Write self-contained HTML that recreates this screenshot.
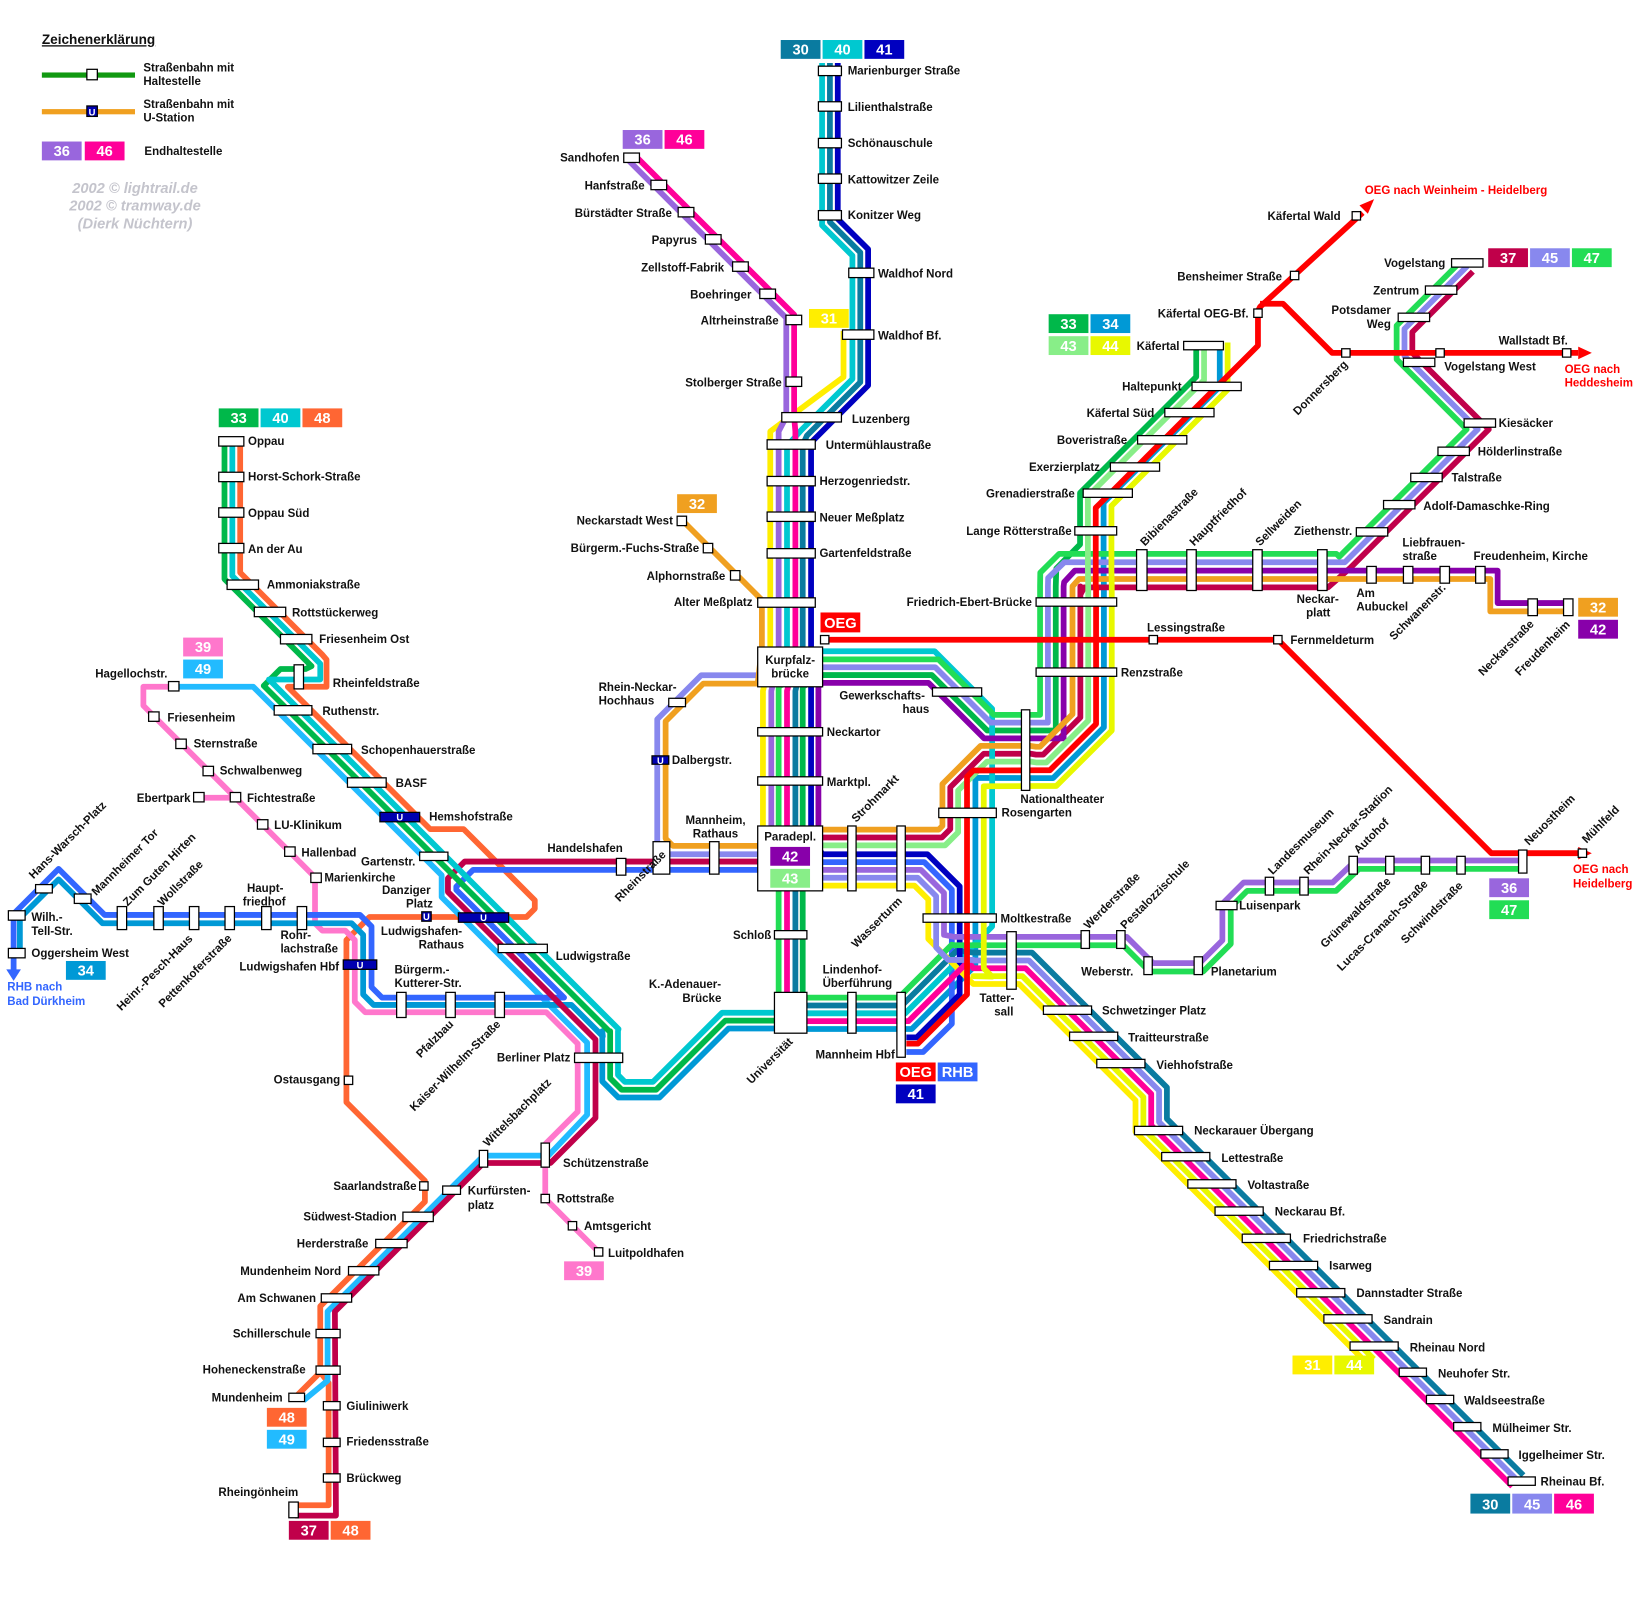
<!DOCTYPE html>
<html><head><meta charset="utf-8">
<style>
html,body{margin:0;padding:0;background:#fff;}
svg{display:block;}
.t{font-family:"Liberation Sans",Arial,sans-serif;font-weight:bold;font-size:11px;fill:#111;}
.w{font-family:"Liberation Sans",Arial,sans-serif;font-weight:bold;font-size:14px;fill:#fff;text-anchor:middle;}
.r{font-family:"Liberation Sans",Arial,sans-serif;font-weight:bold;font-size:11px;fill:#ff0000;}
.b{font-family:"Liberation Sans",Arial,sans-serif;font-weight:bold;font-size:11px;fill:#3366ff;}
.c{font-family:"Liberation Sans",Arial,sans-serif;font-weight:bold;font-style:italic;font-size:14px;fill:#c4c4cc;text-anchor:middle;}
#lines polyline{fill:none;stroke-width:5.5;stroke-linejoin:round;}
.s{fill:#fff;stroke:#000;stroke-width:1.2;}
.u{fill:#0000b0;stroke:#000;stroke-width:1.2;}
.ut{font-family:"Liberation Sans",Arial,sans-serif;font-weight:bold;font-size:9px;fill:#fff;text-anchor:middle;}
</style></head>
<body>
<svg xmlns="http://www.w3.org/2000/svg" width="1641" height="1608" viewBox="0 0 1568 1536">
<rect x="0" y="0" width="1568" height="1536" fill="#fff"/>
<g id="lines"></g>
<g id="arrows">
<polygon points="6,926 20,926 13,937" fill="#3366ff"/>
<polygon points="1508,809 1508,821 1521,815" fill="#ff0000"/>
<polygon points="1508,331 1508,343 1521,337" fill="#ff0000"/>
<polygon points="1313,190 1299,196 1307,204" fill="#ff0000"/>
</g>

<!-- Legend -->
<text x="40" y="42" class="t" style="font-size:13px;text-decoration:underline">Zeichenerklärung</text>
<rect x="40" y="69" width="89" height="5" fill="#119911"/>
<rect x="83" y="66" width="10" height="10" class="s"/>
<text x="137" y="68" class="t">Straßenbahn mit</text><text x="137" y="81" class="t">Haltestelle</text>
<rect x="40" y="104" width="89" height="5" fill="#f0a020"/>
<rect x="83" y="101" width="10" height="10" class="u"/><text x="88" y="110" class="ut">U</text>
<text x="137" y="103" class="t">Straßenbahn mit</text><text x="137" y="116" class="t">U-Station</text>
<rect x="40" y="135" width="38" height="18" fill="#9966dd"/><text x="59" y="149" class="w">36</text>
<rect x="81" y="135" width="38" height="18" fill="#ff0099"/><text x="100" y="149" class="w">46</text>
<text x="138" y="148" class="t">Endhaltestelle</text>
<text x="129" y="184" class="c">2002 © lightrail.de</text>
<text x="129" y="201" class="c">2002 © tramway.de</text>
<text x="129" y="218" class="c">(Dierk Nüchtern)</text>

<!-- Station boxes -->
<g>
<rect x="782" y="63" width="22" height="9" class="s"/>
<rect x="782" y="97" width="22" height="9" class="s"/>
<rect x="782" y="132" width="22" height="9" class="s"/>
<rect x="782" y="166" width="22" height="9" class="s"/>
<rect x="782" y="201" width="22" height="9" class="s"/>
<rect x="811" y="256" width="24" height="9" class="s"/>
<rect x="805" y="315" width="30" height="9" class="s"/>
<rect x="596" y="146" width="15" height="9" class="s"/>
<rect x="622" y="172" width="15" height="9" class="s"/>
<rect x="648" y="198" width="15" height="9" class="s"/>
<rect x="674" y="224" width="15" height="9" class="s"/>
<rect x="700" y="250" width="15" height="9" class="s"/>
<rect x="726" y="276" width="15" height="9" class="s"/>
<rect x="751" y="301" width="15" height="9" class="s"/>
<rect x="751" y="360" width="15" height="9" class="s"/>
<rect x="747" y="394" width="57" height="9" class="s"/>
<rect x="733" y="420" width="46" height="9" class="s"/>
<rect x="733" y="455" width="46" height="9" class="s"/>
<rect x="733" y="489" width="46" height="9" class="s"/>
<rect x="733" y="524" width="46" height="9" class="s"/>
<rect x="724" y="571" width="55" height="9" class="s"/>
<rect x="647" y="493" width="9" height="9" class="s"/>
<rect x="672" y="519" width="9" height="9" class="s"/>
<rect x="698" y="545" width="9" height="9" class="s"/>
<rect x="724" y="618" width="62" height="38" class="s"/>
<rect x="784" y="607" width="8" height="8" class="s"/>
<rect x="724" y="695" width="62" height="8" class="s"/>
<rect x="724" y="742" width="62" height="8" class="s"/>
<rect x="724" y="789" width="62" height="62" class="s"/>
<rect x="740" y="889" width="31" height="8" class="s"/>
<rect x="740" y="948" width="31" height="39" class="s"/>
<rect x="810" y="948" width="8" height="39" class="s"/>
<rect x="857" y="948" width="8" height="62" class="s"/>
<rect x="810" y="789" width="8" height="62" class="s"/>
<rect x="857" y="789" width="8" height="62" class="s"/>
<rect x="891" y="657" width="47" height="8" class="s"/>
<rect x="897" y="772" width="55" height="9" class="s"/>
<rect x="976" y="678" width="8" height="77" class="s"/>
<rect x="882" y="873" width="70" height="8" class="s"/>
<rect x="962" y="890" width="9" height="55" class="s"/>
<rect x="1033" y="889" width="8" height="17" class="s"/>
<rect x="1067" y="889" width="8" height="17" class="s"/>
<rect x="1093" y="914" width="8" height="17" class="s"/>
<rect x="1141" y="914" width="8" height="17" class="s"/>
<rect x="1162" y="861" width="20" height="8" class="s"/>
<rect x="1209" y="838" width="8" height="17" class="s"/>
<rect x="1242" y="838" width="8" height="17" class="s"/>
<rect x="1289" y="818" width="8" height="17" class="s"/>
<rect x="1324" y="818" width="8" height="17" class="s"/>
<rect x="1358" y="818" width="8" height="17" class="s"/>
<rect x="1392" y="818" width="8" height="17" class="s"/>
<rect x="1451" y="812" width="8" height="22" class="s"/>
<rect x="1508" y="811" width="8" height="8" class="s"/>
<rect x="990" y="638" width="77" height="8" class="s"/>
<rect x="990" y="571" width="77" height="8" class="s"/>
<rect x="1027" y="503" width="40" height="8" class="s"/>
<rect x="1035" y="467" width="47" height="8" class="s"/>
<rect x="1061" y="442" width="47" height="8" class="s"/>
<rect x="1087" y="416" width="47" height="8" class="s"/>
<rect x="1113" y="390" width="47" height="8" class="s"/>
<rect x="1139" y="365" width="47" height="8" class="s"/>
<rect x="1131" y="326" width="38" height="8" class="s"/>
<rect x="1086" y="525" width="10" height="39" class="s"/>
<rect x="1134" y="525" width="9" height="39" class="s"/>
<rect x="1197" y="525" width="9" height="39" class="s"/>
<rect x="1259" y="525" width="9" height="39" class="s"/>
<rect x="1306" y="541" width="9" height="16" class="s"/>
<rect x="1341" y="541" width="9" height="16" class="s"/>
<rect x="1376" y="541" width="9" height="16" class="s"/>
<rect x="1410" y="541" width="9" height="16" class="s"/>
<rect x="1460" y="572" width="9" height="16" class="s"/>
<rect x="1494" y="572" width="9" height="16" class="s"/>
<rect x="1296" y="504" width="30" height="8" class="s"/>
<rect x="1322" y="478" width="30" height="8" class="s"/>
<rect x="1348" y="452" width="30" height="8" class="s"/>
<rect x="1374" y="427" width="30" height="8" class="s"/>
<rect x="1399" y="400" width="30" height="8" class="s"/>
<rect x="1341" y="342" width="30" height="8" class="s"/>
<rect x="1336" y="299" width="30" height="8" class="s"/>
<rect x="1362" y="273" width="30" height="8" class="s"/>
<rect x="1387" y="247" width="30" height="8" class="s"/>
<rect x="1282" y="333" width="8" height="8" class="s"/>
<rect x="1372" y="333" width="8" height="8" class="s"/>
<rect x="1493" y="333" width="8" height="8" class="s"/>
<rect x="1198" y="295" width="8" height="8" class="s"/>
<rect x="1233" y="259" width="8" height="8" class="s"/>
<rect x="1292" y="202" width="8" height="8" class="s"/>
<rect x="1098" y="607" width="8" height="8" class="s"/>
<rect x="1217" y="607" width="8" height="8" class="s"/>
<rect x="997" y="961" width="46" height="8" class="s"/>
<rect x="1022" y="986" width="46" height="8" class="s"/>
<rect x="1048" y="1012" width="46" height="8" class="s"/>
<rect x="1084" y="1076" width="46" height="8" class="s"/>
<rect x="1110" y="1101" width="46" height="8" class="s"/>
<rect x="1135" y="1127" width="46" height="8" class="s"/>
<rect x="1161" y="1153" width="46" height="8" class="s"/>
<rect x="1187" y="1179" width="46" height="8" class="s"/>
<rect x="1213" y="1205" width="46" height="8" class="s"/>
<rect x="1239" y="1231" width="46" height="8" class="s"/>
<rect x="1265" y="1256" width="46" height="8" class="s"/>
<rect x="1290" y="1282" width="46" height="8" class="s"/>
<rect x="1337" y="1307" width="26" height="8" class="s"/>
<rect x="1363" y="1333" width="26" height="8" class="s"/>
<rect x="1389" y="1359" width="26" height="8" class="s"/>
<rect x="1415" y="1385" width="26" height="8" class="s"/>
<rect x="1441" y="1411" width="26" height="8" class="s"/>
<!-- LU -->
<rect x="209" y="417" width="24" height="9" class="s"/>
<rect x="209" y="451" width="24" height="9" class="s"/>
<rect x="209" y="485" width="24" height="9" class="s"/>
<rect x="209" y="519" width="24" height="9" class="s"/>
<rect x="217" y="554" width="30" height="9" class="s"/>
<rect x="243" y="580" width="30" height="9" class="s"/>
<rect x="268" y="606" width="30" height="9" class="s"/>
<rect x="281" y="635" width="9" height="23" class="s"/>
<rect x="262" y="674" width="36" height="9" class="s"/>
<rect x="299" y="711" width="37" height="9" class="s"/>
<rect x="332" y="743" width="37" height="9" class="s"/>
<rect x="363" y="776" width="38" height="9" class="u"/><text x="382" y="784" class="ut">U</text>
<rect x="401" y="814" width="27" height="8" class="s"/>
<rect x="403" y="871" width="9" height="9" class="u"/><text x="407.5" y="879" class="ut">U</text>
<rect x="438" y="872" width="48" height="9" class="u"/><text x="462" y="880" class="ut">U</text>
<rect x="476" y="902" width="47" height="8" class="s"/>
<rect x="328" y="917" width="32" height="9" class="u"/><text x="344" y="925" class="ut">U</text>
<rect x="549" y="1006" width="46" height="9" class="s"/>
<rect x="379" y="948" width="9" height="24" class="s"/>
<rect x="426" y="948" width="9" height="24" class="s"/>
<rect x="473" y="948" width="9" height="24" class="s"/>
<rect x="329" y="1028" width="8" height="8" class="s"/>
<rect x="161" y="651" width="10" height="9" class="s"/>
<rect x="142" y="680" width="10" height="9" class="s"/>
<rect x="168" y="706" width="10" height="9" class="s"/>
<rect x="194" y="732" width="10" height="9" class="s"/>
<rect x="185" y="757" width="10" height="9" class="s"/>
<rect x="220" y="757" width="10" height="9" class="s"/>
<rect x="246" y="783" width="10" height="9" class="s"/>
<rect x="272" y="809" width="10" height="9" class="s"/>
<rect x="297" y="834" width="10" height="9" class="s"/>
<rect x="112" y="866" width="9" height="22" class="s"/>
<rect x="147" y="866" width="9" height="22" class="s"/>
<rect x="181" y="866" width="9" height="22" class="s"/>
<rect x="215" y="866" width="9" height="22" class="s"/>
<rect x="250" y="866" width="9" height="22" class="s"/>
<rect x="284" y="866" width="9" height="22" class="s"/>
<rect x="8" y="870" width="16" height="9" class="s"/>
<rect x="8" y="906" width="16" height="9" class="s"/>
<rect x="34" y="845" width="16" height="8" class="s"/>
<rect x="71" y="854" width="16" height="9" class="s"/>
<rect x="589" y="820" width="9" height="16" class="s"/>
<rect x="624" y="804" width="16" height="31" class="s"/>
<rect x="678" y="804" width="9" height="31" class="s"/>
<rect x="639" y="667" width="16" height="8" class="s"/>
<rect x="623" y="722" width="16" height="8" class="u"/><text x="631" y="730" class="ut">U</text>
<rect x="401" y="1129" width="8" height="8" class="s"/>
<rect x="385" y="1158" width="29" height="9" class="s"/>
<rect x="359" y="1184" width="30" height="8" class="s"/>
<rect x="333" y="1210" width="29" height="8" class="s"/>
<rect x="307" y="1236" width="29" height="8" class="s"/>
<rect x="302" y="1270" width="23" height="8" class="s"/>
<rect x="302" y="1305" width="23" height="8" class="s"/>
<rect x="276" y="1331" width="15" height="8" class="s"/>
<rect x="309" y="1339" width="16" height="8" class="s"/>
<rect x="309" y="1374" width="16" height="8" class="s"/>
<rect x="309" y="1408" width="16" height="8" class="s"/>
<rect x="276" y="1435" width="9" height="15" class="s"/>
<rect x="423" y="1133" width="17" height="8" class="s"/>
<rect x="458" y="1099" width="8" height="16" class="s"/>
<rect x="517" y="1092" width="8" height="23" class="s"/>
<rect x="517" y="1141" width="8" height="8" class="s"/>
<rect x="543" y="1167" width="8" height="8" class="s"/>
<rect x="568" y="1192" width="8" height="8" class="s"/>
</g>

<!-- terminal labels -->
<g>
<rect x="746" y="38" width="38" height="18" fill="#0a7ba0"/><text x="765" y="52" class="w">30</text>
<rect x="786" y="38" width="38" height="18" fill="#00c8d0"/><text x="805" y="52" class="w">40</text>
<rect x="826" y="38" width="38" height="18" fill="#0000c0"/><text x="845" y="52" class="w">41</text>
<rect x="595" y="124" width="38" height="18" fill="#9966dd"/><text x="614" y="138" class="w">36</text>
<rect x="635" y="124" width="38" height="18" fill="#ff0099"/><text x="654" y="138" class="w">46</text>
<rect x="773" y="295" width="38" height="18" fill="#ffee00"/><text x="792" y="309" class="w">31</text>
<rect x="647" y="472" width="38" height="18" fill="#f0a020"/><text x="666" y="486" class="w">32</text>
<rect x="209" y="390" width="38" height="18" fill="#00b84a"/><text x="228" y="404" class="w">33</text>
<rect x="249" y="390" width="38" height="18" fill="#00c8d0"/><text x="268" y="404" class="w">40</text>
<rect x="289" y="390" width="38" height="18" fill="#ff6633"/><text x="308" y="404" class="w">48</text>
<rect x="175" y="609" width="38" height="18" fill="#ff77cc"/><text x="194" y="623" class="w">39</text>
<rect x="175" y="630" width="38" height="18" fill="#22bbff"/><text x="194" y="644" class="w">49</text>
<rect x="784" y="585" width="38" height="19" fill="#ff0000"/><text x="803" y="600" class="w">OEG</text>
<rect x="736" y="809" width="38" height="18" fill="#8800aa"/><text x="755" y="823" class="w">42</text>
<rect x="736" y="830" width="38" height="18" fill="#88ee88"/><text x="755" y="844" class="w">43</text>
<rect x="1002" y="300" width="38" height="18" fill="#00b84a"/><text x="1021" y="314" class="w">33</text>
<rect x="1042" y="300" width="38" height="18" fill="#0099d6"/><text x="1061" y="314" class="w">34</text>
<rect x="1002" y="321" width="38" height="18" fill="#88ee88"/><text x="1021" y="335" class="w">43</text>
<rect x="1042" y="321" width="38" height="18" fill="#e8f800"/><text x="1061" y="335" class="w">44</text>
<rect x="1422" y="237" width="38" height="18" fill="#c0004a"/><text x="1441" y="251" class="w">37</text>
<rect x="1462" y="237" width="38" height="18" fill="#8888ee"/><text x="1481" y="251" class="w">45</text>
<rect x="1502" y="237" width="38" height="18" fill="#22dd55"/><text x="1521" y="251" class="w">47</text>
<rect x="1508" y="571" width="38" height="18" fill="#f0a020"/><text x="1527" y="585" class="w">32</text>
<rect x="1508" y="592" width="38" height="18" fill="#8800aa"/><text x="1527" y="606" class="w">42</text>
<rect x="1423" y="839" width="38" height="18" fill="#9966dd"/><text x="1442" y="853" class="w">36</text>
<rect x="1423" y="860" width="38" height="18" fill="#22dd55"/><text x="1442" y="874" class="w">47</text>
<rect x="856" y="1015" width="38" height="18" fill="#ff0000"/><text x="875" y="1029" class="w">OEG</text>
<rect x="896" y="1015" width="38" height="18" fill="#3366ff"/><text x="915" y="1029" class="w">RHB</text>
<rect x="856" y="1036" width="38" height="18" fill="#0000c0"/><text x="875" y="1050" class="w">41</text>
<rect x="1235" y="1295" width="38" height="18" fill="#ffee00"/><text x="1254" y="1309" class="w">31</text>
<rect x="1275" y="1295" width="38" height="18" fill="#e8f800"/><text x="1294" y="1309" class="w">44</text>
<rect x="1405" y="1427" width="38" height="19" fill="#0a7ba0"/><text x="1424" y="1442" class="w">30</text>
<rect x="1445" y="1427" width="38" height="19" fill="#8888ee"/><text x="1464" y="1442" class="w">45</text>
<rect x="1485" y="1427" width="38" height="19" fill="#ff0099"/><text x="1504" y="1442" class="w">46</text>
<rect x="63" y="918" width="38" height="18" fill="#0099d6"/><text x="82" y="932" class="w">34</text>
<rect x="539" y="1205" width="38" height="18" fill="#ff77cc"/><text x="558" y="1219" class="w">39</text>
<rect x="255" y="1345" width="38" height="18" fill="#ff6633"/><text x="274" y="1359" class="w">48</text>
<rect x="255" y="1366" width="38" height="18" fill="#22bbff"/><text x="274" y="1380" class="w">49</text>
<rect x="276" y="1453" width="38" height="18" fill="#c0004a"/><text x="295" y="1467" class="w">37</text>
<rect x="316" y="1453" width="38" height="18" fill="#ff6633"/><text x="335" y="1467" class="w">48</text>
</g>

<!-- labels -->
<g class="t">
<text x="810" y="71" class="t">Marienburger Straße</text>
<text x="810" y="106" class="t">Lilienthalstraße</text>
<text x="810" y="140" class="t">Schönauschule</text>
<text x="810" y="175" class="t">Kattowitzer Zeile</text>
<text x="810" y="209" class="t">Konitzer Weg</text>
<text x="839" y="265" class="t">Waldhof Nord</text>
<text x="839" y="324" class="t">Waldhof Bf.</text>
<text x="814" y="404" class="t">Luzenberg</text>
<text x="789" y="429" class="t">Untermühlaustraße</text>
<text x="783" y="463" class="t">Herzogenriedstr.</text>
<text x="783" y="498" class="t">Neuer Meßplatz</text>
<text x="783" y="532" class="t">Gartenfeldstraße</text>
<text x="719" y="579" class="t" text-anchor="end">Alter Meßplatz</text>
<text x="592" y="154" class="t" text-anchor="end">Sandhofen</text>
<text x="616" y="181" class="t" text-anchor="end">Hanfstraße</text>
<text x="642" y="207" class="t" text-anchor="end">Bürstädter Straße</text>
<text x="666" y="233" class="t" text-anchor="end">Papyrus</text>
<text x="692" y="259" class="t" text-anchor="end">Zellstoff-Fabrik</text>
<text x="718" y="285" class="t" text-anchor="end">Boehringer</text>
<text x="744" y="310" class="t" text-anchor="end">Altrheinstraße</text>
<text x="747" y="369" class="t" text-anchor="end">Stolberger Straße</text>
<text x="643" y="501" class="t" text-anchor="end">Neckarstadt West</text>
<text x="668" y="527" class="t" text-anchor="end">Bürgerm.-Fuchs-Straße</text>
<text x="693" y="554" class="t" text-anchor="end">Alphornstraße</text>
<text x="572" y="660" class="t">Rhein-Neckar-</text>
<text x="572" y="673" class="t">Hochhaus</text>
<text x="642" y="730" class="t">Dalbergstr.</text>
<text x="755" y="634" class="t" text-anchor="middle">Kurpfalz-</text>
<text x="755" y="647" class="t" text-anchor="middle">brücke</text>
<text x="802" y="668" class="t">Gewerkschafts-</text>
<text x="888" y="681" class="t" text-anchor="end">haus</text>
<text x="790" y="703" class="t">Neckartor</text>
<text x="790" y="751" class="t">Marktpl.</text>
<text x="755" y="803" class="t" text-anchor="middle">Paradepl.</text>
<text x="655" y="787" class="t">Mannheim,</text>
<text x="662" y="800" class="t">Rathaus</text>
<text x="523" y="814" class="t">Handelshafen</text>
<text x="737" y="897" class="t" text-anchor="end">Schloß</text>
<text x="786" y="930" class="t">Lindenhof-</text>
<text x="786" y="943" class="t">Überführung</text>
<text x="620" y="944" class="t">K.-Adenauer-</text>
<text x="652" y="957" class="t">Brücke</text>
<text x="855" y="1011" class="t" text-anchor="end">Mannheim Hbf</text>
<text x="936" y="957" class="t">Tatter-</text>
<text x="950" y="970" class="t">sall</text>
<text x="956" y="881" class="t">Moltkestraße</text>
<text x="975" y="767" class="t">Nationaltheater</text>
<text x="957" y="780" class="t">Rosengarten</text>
<text x="986" y="579" class="t" text-anchor="end">Friedrich-Ebert-Brücke</text>
<text x="1071" y="646" class="t">Renzstraße</text>
<text x="1096" y="603" class="t">Lessingstraße</text>
<text x="1233" y="615" class="t">Fernmeldeturm</text>
<text x="1024" y="511" class="t" text-anchor="end">Lange Rötterstraße</text>
<text x="1027" y="475" class="t" text-anchor="end">Grenadierstraße</text>
<text x="1051" y="450" class="t" text-anchor="end">Exerzierplatz</text>
<text x="1077" y="424" class="t" text-anchor="end">Boveristraße</text>
<text x="1103" y="398" class="t" text-anchor="end">Käfertal Süd</text>
<text x="1129" y="373" class="t" text-anchor="end">Haltepunkt</text>
<text x="1127" y="334" class="t" text-anchor="end">Käfertal</text>
<text x="1193" y="303" class="t" text-anchor="end">Käfertal OEG-Bf.</text>
<text x="1225" y="268" class="t" text-anchor="end">Bensheimer Straße</text>
<text x="1281" y="210" class="t" text-anchor="end">Käfertal Wald</text>
<text x="1304" y="185" class="r">OEG nach Weinheim - Heidelberg</text>
<text x="1381" y="255" class="t" text-anchor="end">Vogelstang</text>
<text x="1356" y="281" class="t" text-anchor="end">Zentrum</text>
<text x="1329" y="300" class="t" text-anchor="end">Potsdamer</text>
<text x="1329" y="313" class="t" text-anchor="end">Weg</text>
<text x="1432" y="329" class="t">Wallstadt Bf.</text>
<text x="1380" y="354" class="t">Vogelstang West</text>
<text x="1495" y="356" class="r">OEG nach</text>
<text x="1495" y="369" class="r">Heddesheim</text>
<text x="1432" y="408" class="t">Kiesäcker</text>
<text x="1412" y="435" class="t">Hölderlinstraße</text>
<text x="1387" y="460" class="t">Talstraße</text>
<text x="1360" y="487" class="t">Adolf-Damaschke-Ring</text>
<text x="1292" y="511" class="t" text-anchor="end">Ziethenstr.</text>
<text x="1340" y="522" class="t">Liebfrauen-</text>
<text x="1340" y="535" class="t">straße</text>
<text x="1408" y="535" class="t">Freudenheim, Kirche</text>
<text x="1239" y="576" class="t">Neckar-</text>
<text x="1248" y="589" class="t">platt</text>
<text x="1296" y="570" class="t">Am</text>
<text x="1296" y="583" class="t">Aubuckel</text>
<text x="1033" y="932" class="t">Weberstr.</text>
<text x="1157" y="932" class="t">Planetarium</text>
<text x="1184" y="869" class="t">Luisenpark</text>
<text x="1503" y="834" class="r">OEG nach</text>
<text x="1503" y="848" class="r">Heidelberg</text>
<text x="1053" y="969" class="t">Schwetzinger Platz</text>
<text x="1078" y="995" class="t">Traitteurstraße</text>
<text x="1105" y="1021" class="t">Viehhofstraße</text>
<text x="1141" y="1084" class="t">Neckarauer Übergang</text>
<text x="1167" y="1110" class="t">Lettestraße</text>
<text x="1192" y="1136" class="t">Voltastraße</text>
<text x="1218" y="1161" class="t">Neckarau Bf.</text>
<text x="1245" y="1187" class="t">Friedrichstraße</text>
<text x="1270" y="1213" class="t">Isarweg</text>
<text x="1296" y="1239" class="t">Dannstadter Straße</text>
<text x="1322" y="1265" class="t">Sandrain</text>
<text x="1347" y="1291" class="t">Rheinau Nord</text>
<text x="1374" y="1316" class="t">Neuhofer Str.</text>
<text x="1399" y="1342" class="t">Waldseestraße</text>
<text x="1426" y="1368" class="t">Mülheimer Str.</text>
<text x="1451" y="1394" class="t">Iggelheimer Str.</text>
<text x="1472" y="1419" class="t">Rheinau Bf.</text>
<text x="237" y="425" class="t">Oppau</text>
<text x="237" y="459" class="t">Horst-Schork-Straße</text>
<text x="237" y="494" class="t">Oppau Süd</text>
<text x="237" y="528" class="t">An der Au</text>
<text x="255" y="562" class="t">Ammoniakstraße</text>
<text x="279" y="589" class="t">Rottstückerweg</text>
<text x="305" y="614" class="t">Friesenheim Ost</text>
<text x="318" y="656" class="t">Rheinfeldstraße</text>
<text x="308" y="683" class="t">Ruthenstr.</text>
<text x="345" y="720" class="t">Schopenhauerstraße</text>
<text x="378" y="752" class="t">BASF</text>
<text x="410" y="784" class="t">Hemshofstraße</text>
<text x="345" y="827" class="t">Gartenstr.</text>
<text x="365" y="854" class="t">Danziger</text>
<text x="388" y="867" class="t">Platz</text>
<text x="364" y="893" class="t">Ludwigshafen-</text>
<text x="400" y="906" class="t">Rathaus</text>
<text x="531" y="917" class="t">Ludwigstraße</text>
<text x="545" y="1014" class="t" text-anchor="end">Berliner Platz</text>
<text x="377" y="930" class="t">Bürgerm.-</text>
<text x="377" y="943" class="t">Kutterer-Str.</text>
<text x="325" y="1035" class="t" text-anchor="end">Ostausgang</text>
<text x="160" y="647" class="t" text-anchor="end">Hagellochstr.</text>
<text x="160" y="689" class="t">Friesenheim</text>
<text x="185" y="714" class="t">Sternstraße</text>
<text x="210" y="740" class="t">Schwalbenweg</text>
<text x="182" y="766" class="t" text-anchor="end">Ebertpark</text>
<text x="236" y="766" class="t">Fichtestraße</text>
<text x="262" y="792" class="t">LU-Klinikum</text>
<text x="288" y="818" class="t">Hallenbad</text>
<text x="310" y="842" class="t">Marienkirche</text>
<text x="236" y="852" class="t">Haupt-</text>
<text x="232" y="865" class="t">friedhof</text>
<text x="268" y="897" class="t">Rohr-</text>
<text x="268" y="910" class="t">lachstraße</text>
<text x="324" y="927" class="t" text-anchor="end">Ludwigshafen Hbf</text>
<text x="30" y="880" class="t">Wilh.-</text>
<text x="30" y="893" class="t">Tell-Str.</text>
<text x="30" y="914" class="t">Oggersheim West</text>
<text x="7" y="946" class="b">RHB nach</text>
<text x="7" y="960" class="b">Bad Dürkheim</text>
<text x="538" y="1115" class="t">Schützenstraße</text>
<text x="532" y="1149" class="t">Rottstraße</text>
<text x="558" y="1175" class="t">Amtsgericht</text>
<text x="581" y="1201" class="t">Luitpoldhafen</text>
<text x="398" y="1137" class="t" text-anchor="end">Saarlandstraße</text>
<text x="447" y="1141" class="t">Kurfürsten-</text>
<text x="447" y="1155" class="t">platz</text>
<text x="379" y="1166" class="t" text-anchor="end">Südwest-Stadion</text>
<text x="352" y="1192" class="t" text-anchor="end">Herderstraße</text>
<text x="326" y="1218" class="t" text-anchor="end">Mundenheim Nord</text>
<text x="302" y="1244" class="t" text-anchor="end">Am Schwanen</text>
<text x="297" y="1278" class="t" text-anchor="end">Schillerschule</text>
<text x="292" y="1312" class="t" text-anchor="end">Hoheneckenstraße</text>
<text x="270" y="1339" class="t" text-anchor="end">Mundenheim</text>
<text x="331" y="1347" class="t">Giuliniwerk</text>
<text x="331" y="1381" class="t">Friedensstraße</text>
<text x="331" y="1416" class="t">Brückweg</text>
<text x="285" y="1429" class="t" text-anchor="end">Rheingönheim</text>
<!-- rotated -->
<text class="t" transform="translate(818,786) rotate(-45)">Strohmarkt</text>
<text class="t" transform="translate(818,906) rotate(-45)">Wasserturm</text>
<text class="t" transform="translate(592,862) rotate(-45)">Rheinstraße</text>
<text class="t" transform="translate(718,1036) rotate(-45)">Universität</text>
<text class="t" transform="translate(1240,397) rotate(-45)">Donnersberg</text>
<text class="t" transform="translate(1094,522) rotate(-45)">Bibienastraße</text>
<text class="t" transform="translate(1141,522) rotate(-45)">Hauptfriedhof</text>
<text class="t" transform="translate(1204,522) rotate(-45)">Sellweiden</text>
<text class="t" transform="translate(1332,612) rotate(-45)">Schwanenstr.</text>
<text class="t" transform="translate(1417,646) rotate(-45)">Neckarstraße</text>
<text class="t" transform="translate(1452,646) rotate(-45)">Freudenheim</text>
<text class="t" transform="translate(1040,888) rotate(-45)">Werderstraße</text>
<text class="t" transform="translate(1075,888) rotate(-45)">Pestalozzischule</text>
<text class="t" transform="translate(1216,836) rotate(-45)">Landesmuseum</text>
<text class="t" transform="translate(1250,836) rotate(-45)">Rhein-Neckar-Stadion</text>
<text class="t" transform="translate(1298,816) rotate(-45)">Autohof</text>
<text class="t" transform="translate(1266,906) rotate(-45)">Grünewaldstraße</text>
<text class="t" transform="translate(1282,928) rotate(-45)">Lucas-Cranach-Straße</text>
<text class="t" transform="translate(1343,902) rotate(-45)">Schwindstraße</text>
<text class="t" transform="translate(1461,808) rotate(-45)">Neuostheim</text>
<text class="t" transform="translate(1516,806) rotate(-45)">Mühlfeld</text>
<text class="t" transform="translate(402,1011) rotate(-45)">Pfalzbau</text>
<text class="t" transform="translate(396,1062) rotate(-45)">Kaiser-Wilhelm-Straße</text>
<text class="t" transform="translate(466,1096) rotate(-45)">Wittelsbachplatz</text>
<text class="t" transform="translate(32,840) rotate(-45)">Hans-Warsch-Platz</text>
<text class="t" transform="translate(92,856) rotate(-45)">Mannheimer Tor</text>
<text class="t" transform="translate(122,866) rotate(-45)">Zum Guten Hirten</text>
<text class="t" transform="translate(155,866) rotate(-45)">Wollstraße</text>
<text class="t" transform="translate(116,966) rotate(-45)">Heinr.-Pesch-Haus</text>
<text class="t" transform="translate(156,963) rotate(-45)">Pettenkoferstraße</text>
</g>
</svg>
<script>
(function(){
var S=document.getElementById('lines');
function off(P,d){var n=[],i;for(i=0;i<P.length-1;i++){var dx=P[i+1][0]-P[i][0],dy=P[i+1][1]-P[i][1],l=Math.hypot(dx,dy);n.push([-dy/l,dx/l]);}
return P.map(function(p,i){var a=n[Math.max(0,i-1)],b=n[Math.min(n.length-1,i)];var k=1+a[0]*b[0]+a[1]*b[1];return [p[0]+d*(a[0]+b[0])/k,p[1]+d*(a[1]+b[1])/k];});}
function R(a){return a.slice().reverse();}
function L(col){var pts=[];for(var i=1;i<arguments.length;i++)pts=pts.concat(arguments[i]);
var e=document.createElementNS('http://www.w3.org/2000/svg','polyline');
e.setAttribute('points',pts.map(function(p){return p[0].toFixed(1)+','+p[1].toFixed(1);}).join(' '));
e.setAttribute('stroke',col);S.appendChild(e);}
var c30='#0a7ba0',c31='#ffee00',c32='#f0a020',c33='#00b84a',c34='#0099d6',c36='#9966dd',c37='#c0004a',c39='#ff77cc',c40='#00c8d0',c41='#0000c0',c42='#8800aa',c43='#88ee88',c44='#e8f800',c45='#8888ee',c46='#ff0099',c47='#22dd55',c48='#ff6633',c49='#22bbff',red='#ff0000',rhb='#3366ff';
var N1=[[793,60],[793,212],[822,241],[822,365],[771,416]];
var S36=[[603,150],[755,302],[755,398]];
var P_op=[[222,418],[222,550],[303,631]];
var P_ka=[[583,985],[583,1030],[594,1041],[627,1041],[693,975],[740,975]];
var P_uh=[[771,968],[865,968],[920,913]];
var P_se=[[930,925],[980,925],[1100,1045],[1100,1075],[1445,1420]];
var P_sey=[[930,925],[980,925],[1100,1045],[1100,1075],[1318,1293]];
var P_e36=[[912,899],[1075,899],[1100,924],[1148,924],[1172,900],[1172,865],[1190,847],[1275,847],[1297,826],[1458,826]];
var P_pd=[[786,831],[880,831],[902,853],[902,890]];
var P_pg=[[786,800],[900,800],[908,792],[908,752],[940,720],[985,720]];
var P_nt=[[1043.5,560],[1043.5,690],[1001.5,732],[990,732]];
var P_gw=[[786,641],[892,641],[945,694],[1005,694],[1005,560]];
var P_kf=[[1158,327],[1158,366],[1047,477],[1047,545]];
var P_kf33=[[1158,327],[1158,366],[1047,477],[1047,520]];
var P_vs=[[1285,537],[1412,410],[1342,340],[1342,314],[1402,254]];

L(c48, off(P_op,-7.5), [[312,630],[312,656],[275,656],[411,792],[443,792],[511,860],[511,868],[503,876],[353,876],[331,898],[331,1053],[406,1128],[406,1148],[306,1248],[306,1311],[284,1333]]);
L(c48, [[306,1311],[314,1321],[314,1438],[282,1438]]);
L(c39, [[190,762],[225,762]]);
L(c39, [[166,656],[137,656],[137,674],[301,838],[301,882],[308,889],[330,889],[339,898],[339,957],[349,967],[522,967],[552,997],[552,1062],[521,1093],[521,1145],[571,1195]]);
L(c49, [[166,656],[242,656],[422,836],[422,857],[561,996],[561,1065],[524,1104],[462,1104],[313,1253],[313,1319],[290,1338]]);
L(c34, off(P_kf,-7.5), off(P_nt,-11.25), [[932,743],[932,921]], R(off(P_uh,15)), [[740,982.5]], R(off(P_ka,7.5)), [[576,990],[546,960],[357,960],[347,950],[347,893],[336,882],[98,882],[56,840],[19,877],[19,909]]);
L(rhb, [[866,1005],[882,1005],[909.5,978]], R(off(P_pd,-7.5)), [[724,831],[452,831],[436,847],[436,850],[539,953],[365,953],[355,943],[355,885],[344,874],[100,874],[56,830],[13,873],[13,928]]);
L(c37, R(off(P_vs,7.5)), [[1269,561],[1036,561],[1032.25,568]], off(P_nt,11.25), R(off(P_pg,0)), [[724,823],[444,823],[428,839],[428,852],[569,993],[569,1068],[526,1111],[462,1111],[320,1253],[321,1448],[282,1448]]);
L(c33, off(P_kf33,15), [[1009.25,543]], R(off(P_gw,3.75)), [[767,656],[767,970],[740,975]], R(off(P_ka,0)), [[583,986],[252,655],[268,639],[292,639]], R(off(P_op,7.5)));
L(c40, off(N1,7.5), [[752,426],[752,622],[893,622],[948,677],[948,885]], R(off(P_uh,0)), R(off(P_ka,-7.5)), [[591,983],[257,649],[306,649],[306,634]], R(off(P_op,0)));
L(c30, off(N1,0), [[767,425],[767,630],[760,660],[760,955]], off(P_uh,-7.5), off(P_se,-15));
L(c41, off(N1,-7.5), [[775,426],[775,800]], off(P_pd,-15), [[917,950],[876,991],[866,991]]);
L(c31, [[806,316],[806,360],[736,412],[736,630],[729,660],[729,800]], off(P_pd,15), [[887,897],[930,940]], off(P_sey,15));
L(c36, off(S36,3.75), [[744,412],[744,630],[737,660],[737,800]], off(P_pd,0), [[902,893]], off(P_e36,-4));
L(c46, off(S36,-3.75), [[760,412],[760,630],[752,660],[752,968]], off(P_uh,7.5), off(P_se,0));
L(c47, R(off(P_vs,-7.5)), [[1277,529],[1012,529],[994,547]], R(off(P_gw,-11.25)), [[744,656],[744,950],[771,953]], off(P_uh,-15), [[912,903]], off(P_e36,4));
L(c45, R(off(P_vs,0)), [[1017,537],[1001.5,552]], R(off(P_gw,-3.75)), [[724,645],[670,645],[628,687],[628,808],[636,816],[724,816]], off(P_pd,7.5), [[894.5,905],[906,917],[930,917]], off(P_se,-7.5));
L(c42, [[1498,576],[1431,576],[1431,545],[1027,545],[1016.75,556]], R(off(P_gw,11.25)), [[782,656],[782,789]]);
L(c32, [[1498,584],[1424,584],[1424,553],[1031,553],[1024.75,560]], off(P_nt,18.75), R(off(P_pg,-7.5)), [[724,808],[643,808],[636,801],[636,689],[672,653],[724,653],[728,618],[728,573],[652,497]]);
L(c43, off(P_kf,7.5), off(P_nt,3.75), R(off(P_pg,7.5)));
L(c44, off(P_kf,-15), off(P_nt,-18.75), [[940,751],[940,925],[948,933]], off(P_sey,7.5));
L(red, [[1302,203],[1204,293],[1202,297],[1202,330],[1166,366],[1051,481],[1047,485],[1047,560]], off(P_nt,-3.75), [[930,736],[924,742],[924,950],[877,997],[866,997]]);
L(red, [[1204,290],[1226,290],[1273,337],[1508,337]]);
L(red, [[791,611],[1221,611],[1425,815],[1508,815]]);
})();
</script>
</body></html>
